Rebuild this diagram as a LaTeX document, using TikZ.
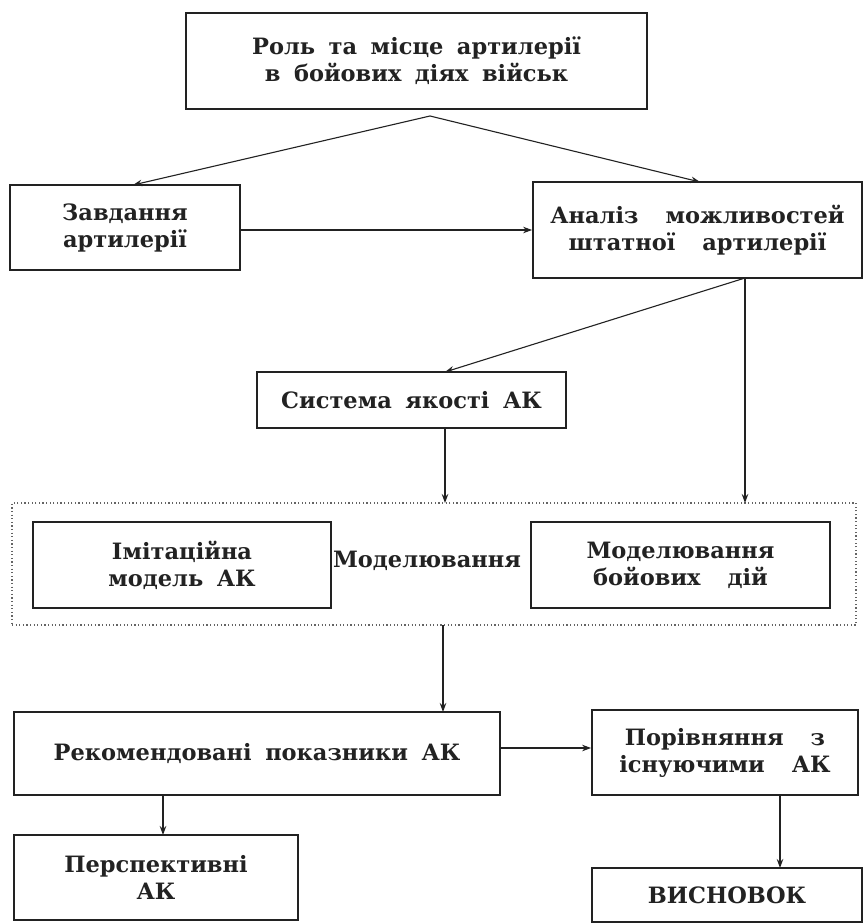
\documentclass[tikz,border=0pt]{standalone}
\usepackage{fontspec}
\setmainfont{DejaVu Serif}
\usetikzlibrary{arrows.meta}
\newcommand\boxfont{\fontsize{22.5}{27}\selectfont\bfseries\spaceskip=0.6em plus 0.1em\relax}
\definecolor{ink}{HTML}{222222}
\begin{document}
\begin{tikzpicture}[x=1pt,y=-1pt,
  box/.style={draw=ink,line width=1.8pt,inner sep=0pt,align=center,font=\boxfont,text=ink},
  lbl/.style={inner sep=0pt,align=center,font=\boxfont,text=ink},
  dotbox/.style={draw=ink!70,line width=1.1pt,dash pattern=on 1.2pt off 2.4pt,inner sep=0pt},
  arr/.style={draw=ink,line width=1.1pt,-{Stealth[length=9pt,width=6.5pt]}}]
\useasboundingbox (0,0) rectangle (867,923);
\fill[white] (0,0) rectangle (867,923);

% dotted frame
\node[dotbox,minimum width=844pt,minimum height=122pt] (dot) at (434,564) {};

% boxes
\node[box,minimum width=461pt,minimum height=96pt] (top) at (416.5,61)
  {Роль та місце артилерії\\в бойових діях військ};
\node[box,minimum width=230pt,minimum height=85pt] (zavd) at (125,227.5)
  {Завдання\\артилерії};
\node[box,minimum width=329pt,minimum height=96pt] (anal) at (697.5,230)
  {Аналіз \ можливостей\\штатної \ артилерії};
\node[box,minimum width=309pt,minimum height=56pt] (sys) at (411.5,400)
  {Система якості АК};
\node[box,minimum width=298pt,minimum height=86pt] (imit) at (182,565)
  {Імітаційна\\модель АК};
\node[lbl] (model) at (427,561) {Моделювання};
\node[box,minimum width=299pt,minimum height=86pt] (boy) at (680.5,565)
  {Моделювання\\бойових \ дій};
\node[box,minimum width=486pt,minimum height=83pt] (rek) at (257,753.5)
  {Рекомендовані показники АК};
\node[box,minimum width=266pt,minimum height=85pt] (por) at (725,752.5)
  {Порівняння \ з\\існуючими \ АК};
\node[box,minimum width=284pt,minimum height=85pt] (persp) at (156,877.5)
  {Перспективні\\АК};
\node[box,minimum width=270pt,minimum height=54pt] (vysn) at (727,895)
  {ВИСНОВОК};

% connector end points
\coordinate (apex) at (430,116);
\coordinate (zt) at (133,185);
\coordinate (at) at (700,182);
\coordinate (ab) at (745,278);
\coordinate (st) at (445,372);
\coordinate (sb) at (445,428);
\coordinate (dt1) at (445,503);
\coordinate (dt2) at (745,503);
\coordinate (db) at (443,625);
\coordinate (rt) at (443,712);
\coordinate (rb) at (163,795);
\coordinate (pt) at (163,835);
\coordinate (pb) at (780,795);
\coordinate (vt) at (780,868);

% connectors
\draw[arr] (apex) -- (zt);
\draw[arr] (apex) -- (at);
\draw[arr] (zavd.east |- anal.west) -- (anal.west);
\draw[arr] (ab) -- (st);
\draw[arr] (ab) -- (dt2);
\draw[arr] (sb) -- (dt1);
\draw[arr] (db) -- (rt);
\draw[arr] (rek.east |- 0,748) -- (por.west |- 0,748);
\draw[arr] (rb) -- (pt);
\draw[arr] (pb) -- (vt);
\end{tikzpicture}
\end{document}
